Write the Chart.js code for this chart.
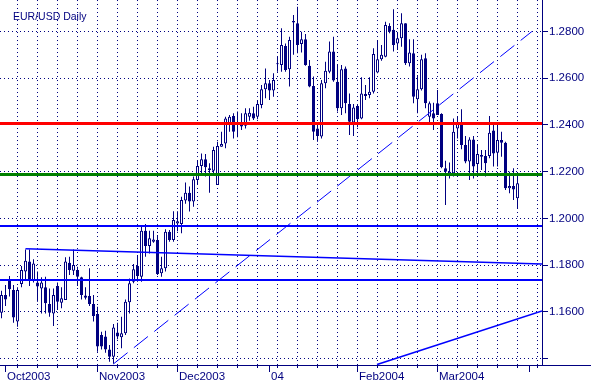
<!doctype html>
<html lang="en">
<head>
<meta charset="utf-8">
<title>EUR/USD Daily</title>
<script src="https://cdn.jsdelivr.net/npm/chart.js"></script>
<style>
html, body { margin: 0; padding: 0; background: #fff; }
#wrap { width: 591px; height: 383px; }
</style>
</head>
<body>
<div id="wrap"><canvas id="chart" width="591" height="383"></canvas></div>
<script>
// Données (EUR/USD, bougies journalières)
const title = 'EUR/USD Daily';
const firstDay = '2003-09-30';
const nbSlots = 136;

const opens = [1.1596,1.1672,1.1736,1.1693,1.1558,1.1719,1.1772,1.1815,1.1736,1.1725,
  1.1700,1.1705,1.1633,1.1593,1.1710,1.1639,1.1650,1.1810,1.1776,1.1779,
  1.1748,1.1670,1.1668,1.1633,1.1591,1.1501,1.1494,1.1439,1.1408,1.1511,
  1.1491,1.1508,1.1641,1.1729,1.1796,1.1750,1.1947,1.1882,1.1900,1.1907,
  1.1765,1.1786,1.1943,1.1907,1.1978,1.1976,1.2076,1.2110,1.2072,1.2164,
  1.2224,1.2253,1.2214,1.2204,1.2143,1.2307,1.2321,1.2404,1.2438,1.2410,
  1.2407,1.2396,1.2435,1.2450,1.2435,1.2485,1.2553,1.2578,1.2547,1.2660,
  1.2657,1.2738,1.2638,1.2845,1.2835,1.2747,1.2767,1.2653,1.2567,1.2385,
  1.2350,1.2578,1.2628,1.2714,1.2585,1.2471,1.2642,1.2490,1.2410,1.2481,
  1.2428,1.2532,1.2528,1.2542,1.2624,1.2681,1.2692,1.2824,1.2807,1.2749,
  1.2771,1.2835,1.2664,1.2707,1.2510,1.2553,1.2685,1.2435,1.2450,1.2493,
  1.2447,1.2214,1.2190,1.2193,1.2385,1.2404,1.2314,1.2243,1.2338,1.2233,
  1.2271,1.2267,1.2267,1.2376,1.2281,1.2335,1.2324,1.2129,1.2139,1.2086];
const highs = [1.1690,1.1715,1.1753,1.1715,1.1705,1.1796,1.1867,1.1867,1.1825,1.1772,
  1.1748,1.1750,1.1700,1.1700,1.1725,1.1705,1.1833,1.1836,1.1867,1.1793,
  1.1750,1.1705,1.1786,1.1672,1.1622,1.1515,1.1519,1.1458,1.1548,1.1553,
  1.1579,1.1653,1.1743,1.1805,1.1843,1.1972,1.1976,1.1947,1.1947,1.1929,
  1.1836,1.1953,1.1950,1.2030,1.2030,1.2093,1.2153,1.2136,1.2179,1.2250,
  1.2278,1.2276,1.2236,1.2307,1.2328,1.2371,1.2435,1.2443,1.2450,1.2457,
  1.2450,1.2471,1.2471,1.2478,1.2507,1.2571,1.2642,1.2592,1.2621,1.2692,
  1.2814,1.2749,1.2778,1.2871,1.2906,1.2799,1.2789,1.2678,1.2607,1.2407,
  1.2592,1.2671,1.2757,1.2778,1.2657,1.2657,1.2650,1.2535,1.2490,1.2490,
  1.2604,1.2571,1.2604,1.2728,1.2764,1.2742,1.2842,1.2835,1.2895,1.2795,
  1.2878,1.2835,1.2767,1.2767,1.2614,1.2700,1.2707,1.2500,1.2495,1.2550,
  1.2450,1.2247,1.2239,1.2428,1.2435,1.2467,1.2353,1.2347,1.2353,1.2314,
  1.2293,1.2293,1.2438,1.2410,1.2407,1.2371,1.2328,1.2200,1.2214,1.2179];
const lows = [1.1572,1.1625,1.1665,1.1553,1.1536,1.1705,1.1736,1.1710,1.1725,1.1643,
  1.1593,1.1593,1.1579,1.1539,1.1608,1.1615,1.1650,1.1758,1.1758,1.1710,
  1.1653,1.1653,1.1625,1.1558,1.1429,1.1439,1.1425,1.1386,1.1377,1.1482,
  1.1444,1.1501,1.1593,1.1722,1.1729,1.1729,1.1836,1.1850,1.1896,1.1758,
  1.1750,1.1772,1.1900,1.1900,1.1945,1.1936,1.2062,1.2029,1.2050,1.2147,
  1.2193,1.2179,1.2110,1.2193,1.2143,1.2307,1.2300,1.2371,1.2342,1.2347,
  1.2378,1.2385,1.2418,1.2421,1.2424,1.2471,1.2514,1.2507,1.2521,1.2628,
  1.2628,1.2628,1.2564,1.2700,1.2707,1.2710,1.2653,1.2561,1.2335,1.2328,
  1.2342,1.2557,1.2621,1.2585,1.2457,1.2443,1.2450,1.2357,1.2353,1.2390,
  1.2424,1.2507,1.2514,1.2535,1.2621,1.2675,1.2690,1.2792,1.2714,1.2721,
  1.2735,1.2657,1.2650,1.2493,1.2450,1.2547,1.2471,1.2400,1.2378,1.2443,
  1.2214,1.2057,1.2171,1.2179,1.2342,1.2296,1.2236,1.2164,1.2171,1.2179,
  1.2207,1.2179,1.2257,1.2222,1.2222,1.2264,1.2121,1.2107,1.2079,1.2043];
const closes = [1.1672,1.1653,1.1696,1.1576,1.1693,1.1779,1.1819,1.1736,1.1807,1.1708,
  1.1725,1.1636,1.1596,1.1672,1.1643,1.1658,1.1815,1.1779,1.1800,1.1750,
  1.1672,1.1660,1.1633,1.1582,1.1451,1.1451,1.1439,1.1408,1.1533,1.1494,
  1.1508,1.1643,1.1722,1.1782,1.1753,1.1947,1.1882,1.1915,1.1910,1.1762,
  1.1786,1.1943,1.1907,1.1993,1.1988,1.2079,1.2110,1.2072,1.2167,1.2224,
  1.2253,1.2219,1.2207,1.2293,1.2310,1.2318,1.2428,1.2435,1.2371,1.2404,
  1.2393,1.2450,1.2452,1.2428,1.2490,1.2553,1.2578,1.2547,1.2592,1.2664,
  1.2742,1.2635,1.2764,1.2838,1.2742,1.2767,1.2657,1.2564,1.2371,1.2353,
  1.2578,1.2632,1.2714,1.2590,1.2471,1.2638,1.2493,1.2414,1.2475,1.2424,
  1.2535,1.2524,1.2542,1.2704,1.2681,1.2700,1.2828,1.2799,1.2742,1.2771,
  1.2835,1.2664,1.2710,1.2521,1.2553,1.2681,1.2493,1.2493,1.2428,1.2443,
  1.2219,1.2200,1.2200,1.2371,1.2407,1.2314,1.2243,1.2338,1.2222,1.2276,
  1.2264,1.2236,1.2367,1.2278,1.2335,1.2324,1.2129,1.2139,1.2124,1.2150];

// Lignes tracées sur le graphique
const resistance = 1.2406;   // rouge
const support = 1.2188;      // vert
const levels = [1.1967, 1.1736];          // horizontales bleues
const trendTop = [[6, 1.1870], [135.125, 1.1805]];
const trendDash = [[28, 1.1377], [132.6, 1.2800]];
const trendLow = [[93.875, 1.1374], [135.125, 1.1603]];

const yTicks = [1.14, 1.16, 1.18, 1.20, 1.22, 1.24, 1.26, 1.28];
const monthKeys = ['2003-10', '2003-11', '2003-12', '2004-01', '2004-02', '2004-03', '2004-04'];
const monthLabels = ['Oct2003', 'Nov2003', 'Dec2003', '04', 'Feb2004', 'Mar2004', ''];

const NAVY = '#000080';
const BLUE = '#0000ff';
const FONT = '"Liberation Sans", Arial, sans-serif';
const X_MIN = -0.375, X_MAX = 135.125;
const Y_MIN = 1.137215, Y_MAX = 1.293486;

// jours ouvrés
const dates = [];
for (let d = new Date(firstDay + 'T00:00:00Z'); dates.length < nbSlots; d.setUTCDate(d.getUTCDate() + 1)) {
  const wd = d.getUTCDay();
  if (wd !== 0 && wd !== 6) dates.push(d.toISOString().slice(0, 10));
}
const mondays = [];
const monthStarts = [];
dates.forEach((s, i) => {
  if (new Date(s + 'T00:00:00Z').getUTCDay() === 1) mondays.push(i);
  if (i > 0 && s.slice(0, 7) !== dates[i - 1].slice(0, 7)) {
    monthStarts.push({ i: i, label: monthLabels[monthKeys.indexOf(s.slice(0, 7))] || '' });
  }
});

const wicks = highs.map((h, i) => ({ x: i, y: [lows[i], h] }));
const bodies = opens.map((o, i) => ({ x: i, y: [o, closes[i]] }));
const bodyFill = opens.map((o, i) => closes[i] >= o ? '#ffffff' : NAVY);

function seg(points, color, width, dash) {
  return {
    type: 'line',
    data: points.map(p => ({ x: p[0], y: p[1] })),
    borderColor: color, borderWidth: width, borderDash: dash || [],
    pointRadius: 0, fill: false, tension: 0, clip: 0, order: 0
  };
}

// pas de marge automatique autour de la zone du graphique
function noPad(s) {
  s.paddingTop = 0; s.paddingBottom = 0; s.paddingLeft = 0; s.paddingRight = 0;
}

// axe des dates, graduations, titre
const decor = {
  id: 'decor',
  afterDraw(chart) {
    const { ctx, chartArea } = chart;
    const x = chart.scales.x;
    const bottom = chartArea.bottom;
    ctx.save();
    ctx.strokeStyle = NAVY;
    ctx.lineWidth = 1;
    ctx.beginPath();
    ctx.moveTo(0, bottom + 0.5);
    ctx.lineTo(chart.width, bottom + 0.5);
    mondays.forEach(i => {
      const px = Math.floor(x.getPixelForValue(i)) + 0.5;
      ctx.moveTo(px, bottom);
      ctx.lineTo(px, bottom + 3);
    });
    monthStarts.forEach(m => {
      const px = Math.floor(x.getPixelForValue(m.i)) + 0.5;
      ctx.moveTo(px, bottom);
      ctx.lineTo(px, bottom + 7);
    });
    ctx.stroke();

    ctx.fillStyle = NAVY;
    ctx.textBaseline = 'alphabetic';
    ctx.textAlign = 'left';
    ctx.font = '11.5px ' + FONT;
    monthStarts.forEach(m => {
      const px = Math.floor(x.getPixelForValue(m.i));
      ctx.fillText(m.label, px + 2, bottom + 15);
    });
    ctx.font = '10.5px ' + FONT;
    ctx.fillText(title, 13, 19.5);
    ctx.restore();
  }
};

new Chart(document.getElementById('chart'), {
  type: 'bar',
  data: {
    datasets: [
      seg([[X_MIN, resistance], [X_MAX, resistance]], '#ff0000', 3),
      seg([[X_MIN, support], [X_MAX, support]], '#008000', 3),
      seg([[X_MIN, levels[0]], [X_MAX, levels[0]]], BLUE, 2),
      seg([[X_MIN, levels[1]], [X_MAX, levels[1]]], BLUE, 2),
      seg(trendTop, BLUE, 1.5),
      seg(trendDash, BLUE, 1, [18, 8]),
      seg(trendLow, BLUE, 1.5),
      {
        type: 'bar', data: bodies, backgroundColor: bodyFill, borderColor: NAVY,
        borderWidth: 1, borderSkipped: false, barThickness: 3, grouped: false,
        inflateAmount: 0, minBarLength: 1, order: 1
      },
      {
        type: 'bar', data: wicks, backgroundColor: NAVY, borderWidth: 0,
        barThickness: 1, grouped: false, inflateAmount: 0, order: 2
      }
    ]
  },
  options: {
    responsive: false,
    animation: false,
    devicePixelRatio: 1,
    layout: { padding: 0 },
    plugins: { legend: { display: false }, tooltip: { enabled: false }, title: { display: false } },
    scales: {
      x: {
        type: 'linear', min: X_MIN, max: X_MAX, bounds: 'data', offset: false,
        afterBuildTicks: s => { s.ticks = mondays.map(v => ({ value: v })); },
        afterFit: s => { s.height = 18; noPad(s); },
        grid: { color: NAVY, drawTicks: false, offset: false },
        border: { display: true, color: NAVY, dash: [1, 3] },
        ticks: { display: false }
      },
      y: {
        type: 'linear', position: 'right', min: Y_MIN, max: Y_MAX, bounds: 'data',
        afterBuildTicks: s => { s.ticks = yTicks.map(v => ({ value: v })); },
        afterFit: s => { s.width = 49; noPad(s); },
        grid: { color: NAVY, tickLength: 6, tickColor: NAVY },
        border: { display: true, color: NAVY, dash: [1, 3] },
        ticks: {
          color: NAVY, padding: 1, font: { family: FONT, size: 11.5 },
          callback: v => (Math.abs(v - 1.14) < 1e-6 ? '' : Number(v).toFixed(4))
        }
      }
    }
  },
  plugins: [decor]
});
</script>
</body>
</html>
